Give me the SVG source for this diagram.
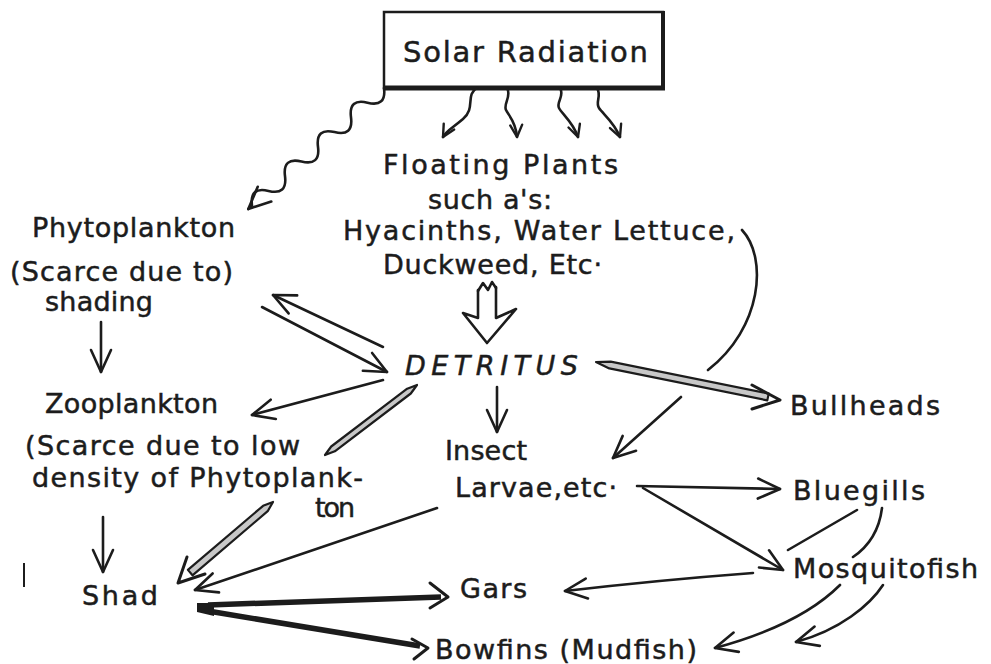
<svg xmlns="http://www.w3.org/2000/svg" width="991" height="664" viewBox="0 0 991 664">
<defs>
<style>
.t{font-family:"DejaVu Sans","Liberation Sans",sans-serif;font-size:27px;fill:#1c1c1c;stroke:#1c1c1c;stroke-width:0.5}
.c{fill:none;stroke:#1c1c1c;stroke-width:2.6;stroke-linecap:round;stroke-linejoin:round}
.thick{fill:none;stroke:#1c1c1c;stroke-width:5.5;stroke-linecap:butt}
.hollow{fill:#c8c8c8;stroke:#1c1c1c;stroke-width:2.2;stroke-linejoin:round}
.head{fill:none;stroke:#1c1c1c;stroke-width:3;stroke-linecap:round;stroke-linejoin:round}
</style>
<marker id="arr" markerUnits="userSpaceOnUse" markerWidth="26" markerHeight="24" viewBox="0 0 26 24" refX="24" refY="12" orient="auto">
<path d="M2,2 L24,12 L2,22" fill="none" stroke="#1c1c1c" stroke-width="2.6" stroke-linecap="round" stroke-linejoin="round"/>
</marker>
<marker id="arrs" markerUnits="userSpaceOnUse" markerWidth="16" markerHeight="16" viewBox="0 0 16 16" refX="14" refY="8" orient="auto">
<path d="M2,2 L14,8 L2,14" fill="none" stroke="#1c1c1c" stroke-width="2.4" stroke-linecap="round" stroke-linejoin="round"/>
</marker>
</defs>
<rect width="991" height="664" fill="#ffffff"/>

<g id="solar">
<rect x="384" y="12" width="279" height="76" fill="#ffffff" stroke="#1c1c1c" stroke-width="2.5"/>
<line x1="384" y1="88" x2="665" y2="88" stroke="#1c1c1c" stroke-width="5"/>
<line x1="663" y1="11" x2="663" y2="90" stroke="#1c1c1c" stroke-width="4"/>
<text class="t" x="403" y="62" style="font-size:29px" textLength="245">Solar Radiation</text>
</g>

<g id="floating-plants">
<text class="t" x="383" y="174" textLength="235">Floating Plants</text>
<text class="t" x="428" y="209" textLength="124">such a's:</text>
<text class="t" x="343" y="240" textLength="392">Hyacinths, Water Lettuce,</text>
<text class="t" x="383" y="274" textLength="219">Duckweed, Etc·</text>
</g>

<g id="phytoplankton">
<text class="t" x="32" y="237" textLength="203">Phytoplankton</text>
<text class="t" x="10" y="281" textLength="223">(Scarce due to)</text>
<text class="t" x="45" y="311" textLength="108">shading</text>
</g>

<g id="zooplankton">
<text class="t" x="45" y="413" textLength="173">Zooplankton</text>
<text class="t" x="25" y="455" textLength="275">(Scarce due to low</text>
<text class="t" x="32" y="487" textLength="331">density of Phytoplank-</text>
<text class="t" x="315" y="517" textLength="40">ton</text>
</g>

<g id="detritus">
<text class="t" x="405" y="375" textLength="173" style="font-style:italic">DETRITUS</text>
</g>

<g id="insect-larvae">
<text class="t" x="445" y="460" textLength="82">Insect</text>
<text class="t" x="455" y="497" textLength="162">Larvae,etc·</text>
</g>

<g id="bullheads"><text class="t" x="790" y="415" textLength="150">Bullheads</text></g>
<g id="bluegills"><text class="t" x="793" y="500" textLength="132">Bluegills</text></g>
<g id="mosquitofish"><text class="t" x="793" y="578" textLength="185">Mosquitofish</text></g>
<g id="shad"><text class="t" x="82" y="605" textLength="76">Shad</text></g>
<g id="gars"><text class="t" x="460" y="598" textLength="67">Gars</text></g>
<g id="bowfins"><text class="t" x="435" y="659" textLength="262">Bowfins (Mudfish)</text></g>

<g id="connectors">
<!-- Solar radiation to phytoplankton (wavy) -->
<path class="c" marker-end="url(#arr)" d="M384,88 Q386.5,107.3 367.5,102.7 T351,117.4 T334.5,132.1 T318,146.8 T301.5,161.5 T285,176.2 T268.5,190.9 T252,205.6 L248.3,209"/>
<!-- Solar radiation to floating plants (small wavy) -->
<path class="c" marker-end="url(#arrs)" d="M477,88 C465,95 476,108 463,119 S447,130 443,137"/>
<path class="c" marker-end="url(#arrs)" d="M507,88 C512,96 503,104 506,110 S516,122 517,137"/>
<path class="c" marker-end="url(#arrs)" d="M560,88 C565,96 556,102 559,108 S573,122 578,137"/>
<path class="c" marker-end="url(#arrs)" d="M597,88 C602,96 595,102 599,108 S614,122 620,137"/>
<!-- Floating plants to detritus (hollow block arrow) -->
<path class="c" d="M478,290 L478,318 L463,313 L487,343 L516,309 L496,318 L496,287"/>
<path class="c" d="M478,291 L483,283 L488,290 L492,282 L496,288"/>
<!-- Phytoplankton <-> detritus -->
<path class="c" marker-end="url(#arr)" d="M383,347 L273,295"/>
<path class="c" marker-end="url(#arr)" d="M262,307 L387,372"/>
<!-- Phytoplankton to zooplankton -->
<path class="c" marker-end="url(#arr)" d="M101,322 L101,372"/>
<!-- Detritus to zooplankton -->
<path class="c" marker-end="url(#arr)" d="M383,380 L252,415"/>
<!-- Detritus to insect larvae -->
<path class="c" marker-end="url(#arr)" d="M497,387 L497,432"/>
<!-- Detritus to bullheads (hollow) -->
<path class="hollow" d="M596,362 L609.3,368.4 L767.3,400.4 L768.7,393.6 L610.7,361.6 Z"/>
<path class="head" d="M752,385 L780,400 L752,409"/>
<!-- Floating plants to insect larvae (curve crossing the bullhead arrow) -->
<path class="c" marker-end="url(#arr)" d="M742,230 C768,258 762,328 708,370 M681,397 L613,458"/>
<!-- Detritus to shad (hollow, broken by text) -->
<path class="hollow" d="M417,385 L410.8,393.5 L334.8,451.3 L325,455 L331.2,446.5 L407.2,388.7 Z"/>
<path class="hollow" d="M273,502 L267.7,511.2 L192.5,575.3 L187.9,569.9 L263.1,505.8 Z"/>
<path class="head" d="M187,557 L178,583 L205,574"/>
<!-- Zooplankton to shad -->
<path class="c" marker-end="url(#arr)" d="M103,517 L103,572"/>
<!-- Insect larvae to shad -->
<path class="c" marker-end="url(#arr)" d="M437,508 L195,590"/>
<!-- Shad to gars / bowfins (thick) -->
<path d="M197,603 L214,603 L214,616 L197,612 Z" fill="#1c1c1c"/>
<path class="thick" d="M208,605 L441,597"/>
<path class="head" d="M430,583 L448,597 L430,608"/>
<path class="thick" d="M208,611 L420,646"/>
<path class="head" d="M412,639 L428,648 L414,659"/>
<!-- Insect larvae to bluegills / mosquitofish -->
<path class="c" marker-end="url(#arr)" d="M637,486 L780,489"/>
<path class="c" marker-end="url(#arr)" d="M643,488 L783,570"/>
<!-- Bluegills to gars (gap at crossing) -->
<path class="c" marker-end="url(#arr)" d="M857,510 L788,550 M753,573 Q660,580 565,591"/>
<!-- Bluegills to bowfins (passes behind Mosquitofish) -->
<path class="c" marker-end="url(#arr)" d="M882,508 Q878,540 853,557 M840,585 Q800,625 715,648"/>
<!-- Mosquitofish to bowfins -->
<path class="c" marker-end="url(#arr)" d="M883,585 C870,605 840,630 796,642"/>
</g>
<line x1="24" y1="563" x2="24" y2="587" stroke="#1c1c1c" stroke-width="2"/>
</svg>
